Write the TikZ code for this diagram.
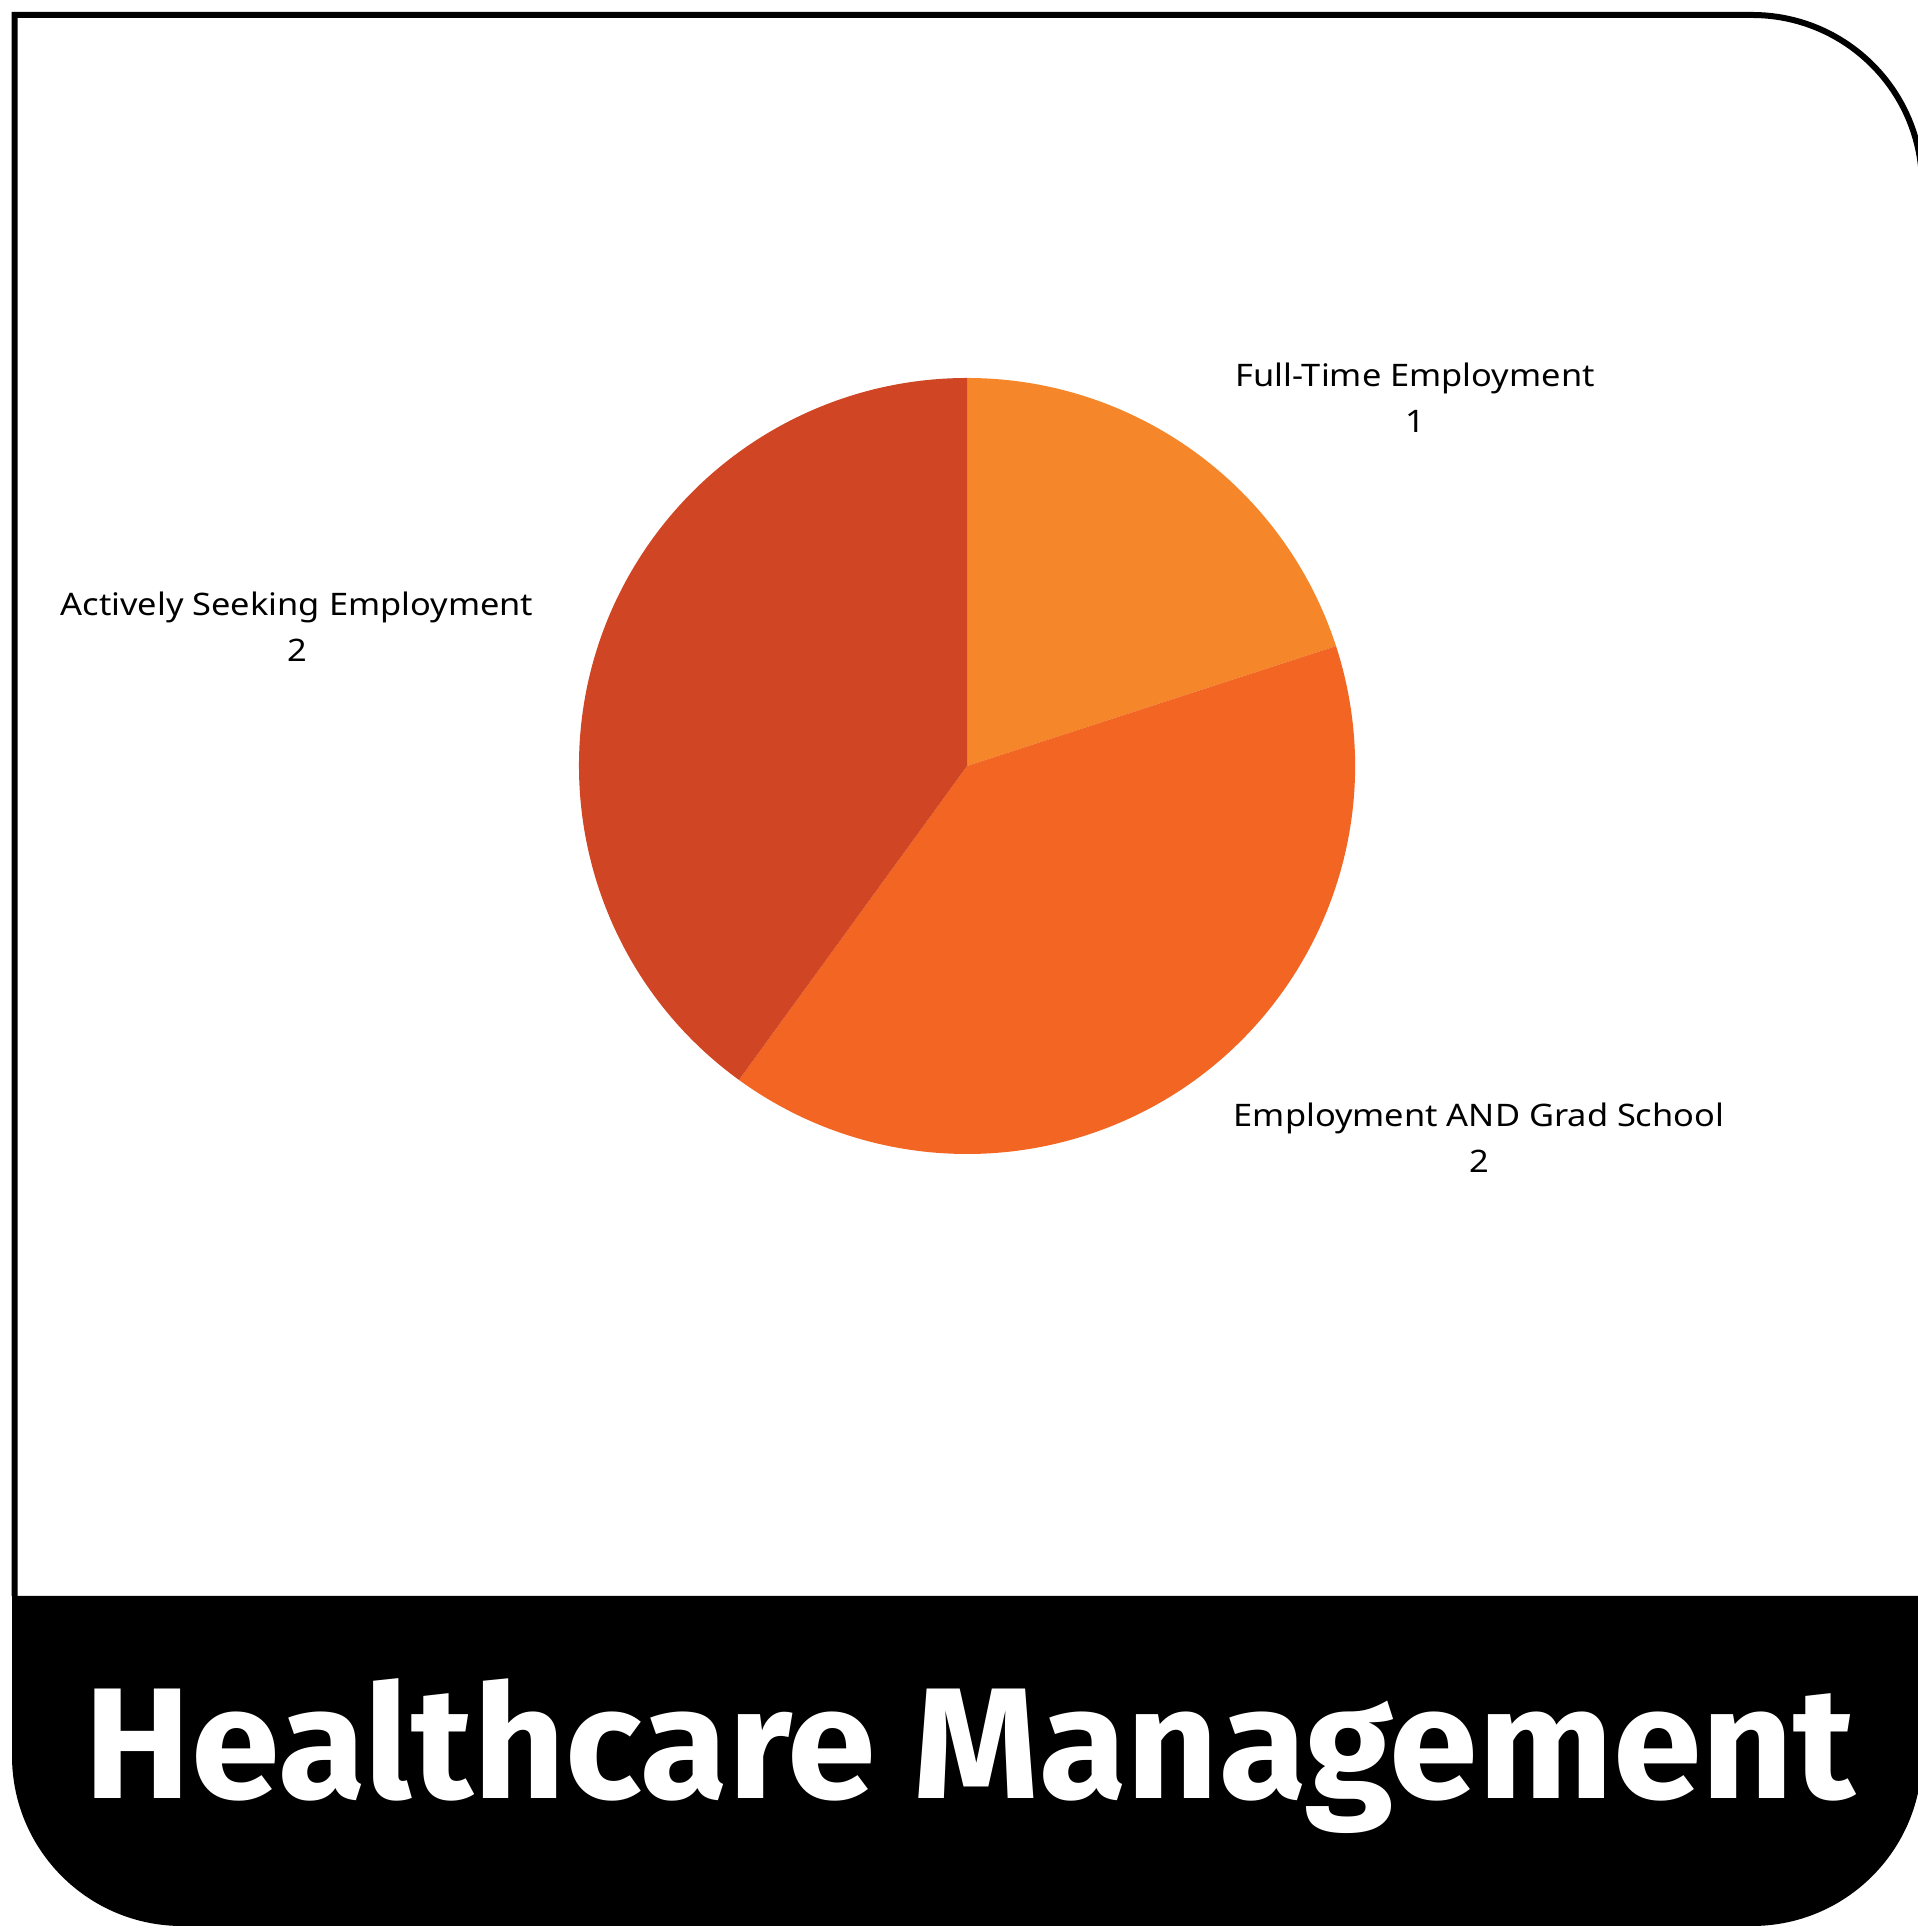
\documentclass[tikz,border=0pt]{standalone}
\usepackage{fontspec}
\setmainfont{Noto Sans}[FakeStretch=1.11]
\newfontfamily\titlefont{Fira Sans}[FakeStretch=1.012]
\definecolor{fullorange}{HTML}{F5872A}
\definecolor{bothorange}{HTML}{F26522}
\definecolor{seekred}{HTML}{D04524}

\begin{document}
\begin{tikzpicture}[
    x=1pt, y=1pt,
    every node/.style={
        align=center,
        inner sep=0pt,
        font=\fontsize{31}{46}\selectfont
    }
]
\useasboundingbox (0,0) rectangle (1918,1928);
\fill[white] (0,0) rectangle (1918,1928);

% 테두리
\draw[line width=6pt] (14.5,332) -- (14.5,1913) -- (1752,1913)
    arc[start angle=90, end angle=0, radius=170] -- (1922,332);

% 아래 띠
\fill[black] (12,332) -- (1922,332) -- (1922,172)
    arc[start angle=0, end angle=-90, radius=170] -- (182,2)
    arc[start angle=270, end angle=180, radius=170] -- cycle;

% 파이
\coordinate (c) at (967,1162);
\fill[fullorange] (c) -- ++(90:388) arc[start angle=90, end angle=18, radius=388] -- cycle;
\fill[bothorange] (c) -- ++(18:388) arc[start angle=18, end angle=-126, radius=388] -- cycle;
\fill[seekred] (c) -- ++(-126:388) arc[start angle=-126, end angle=-270, radius=388] -- cycle;

% 라벨
\node (full) at (1415,1530) {Full-Time Employment\\1};
\node (seek) at (297,1301) {Actively Seeking Employment\\2};
\node (both) at (1479,790) {Employment AND Grad School\\2};

% 제목
\node[font=\titlefont\bfseries\fontsize{158}{158}\selectfont, text=white, anchor=base]
    (title) at (970,129) {Healthcare Management};

\end{tikzpicture}
\end{document}
